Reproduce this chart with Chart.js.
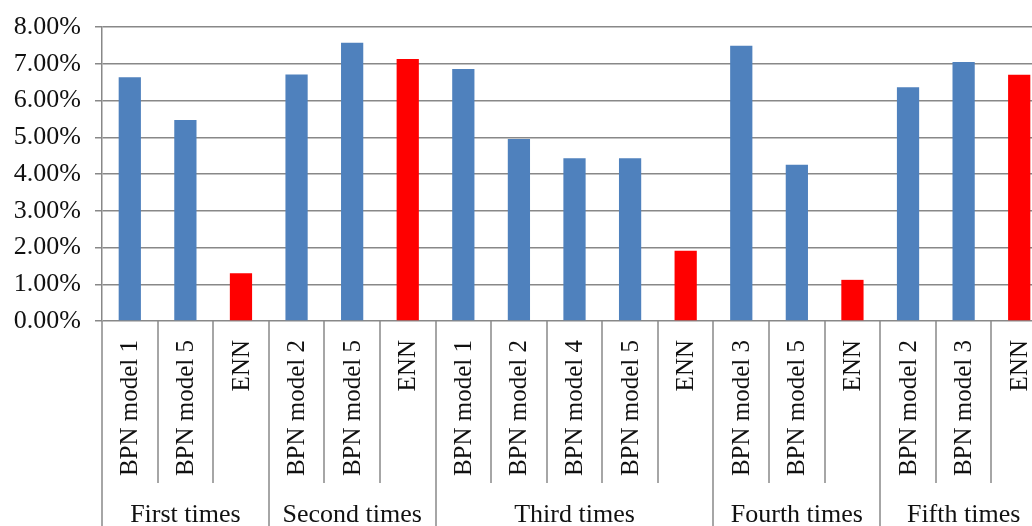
<!DOCTYPE html>
<html>
<head>
<meta charset="utf-8">
<script src="https://cdn.jsdelivr.net/npm/chart.js@4/dist/chart.umd.min.js"></script>
<style>
    html, body { margin: 0; padding: 0; background: #fff; overflow: hidden; }
    #wrap { position: relative; width: 1048px; height: 526px; }
</style>
</head>
<body>
<div id="wrap"><canvas id="chart-error"></canvas></div>
<script>
// Data
const groupNames = ['First times', 'Second times', 'Third times', 'Fourth times', 'Fifth times'];
const groupSizes = [3, 3, 5, 3, 3];
const modelLabels = [
    'BPN model 1', 'BPN model 5', 'ENN',
    'BPN model 2', 'BPN model 5', 'ENN',
    'BPN model 1', 'BPN model 2', 'BPN model 4', 'BPN model 5', 'ENN',
    'BPN model 3', 'BPN model 5', 'ENN',
    'BPN model 2', 'BPN model 3', 'ENN'
];
const errorValues = [6.63, 5.47, 1.30, 6.71, 7.57, 7.13, 6.86, 4.95, 4.43, 4.43, 1.91, 7.49, 4.25, 1.12, 6.36, 7.05, 6.70];
const yTicks = [0, 1, 2, 3, 4, 5, 6, 7, 8];

const BLUE = '#4f81bd';
const RED = '#ff0000';
const LINE = '#888888';
const SERIF = "'Liberation Serif', 'Times New Roman', serif";

// Draws the two-level category axis below the plot
const groupAxisPlugin = {
    id: 'groupAxis',
    afterDraw(chart) {
        const ctx = chart.ctx;
        const x = chart.scales.x;
        const area = chart.chartArea;
        const n = modelLabels.length;
        const step = (area.right - area.left) / n;
        const edge = i => x.getPixelForValue(0) - step / 2 + i * step;

        // group boundaries
        const starts = [0];
        groupSizes.forEach((s, i) => starts.push(starts[i] + s));

        ctx.save();
        ctx.strokeStyle = LINE;
        ctx.lineWidth = 1.5;
        for (let i = 0; i <= n; i++) {
            const px = Math.round(edge(i));
            const isGroup = starts.includes(i);
            ctx.beginPath();
            ctx.moveTo(px, area.bottom);
            ctx.lineTo(px, isGroup ? 526 : 483);
            ctx.stroke();
        }

        // model labels, rotated
        ctx.fillStyle = '#111';
        ctx.font = '25px ' + SERIF;
        ctx.textAlign = 'right';
        ctx.textBaseline = 'middle';
        modelLabels.forEach((lab, i) => {
            const cx = x.getPixelForValue(i);
            ctx.save();
            ctx.translate(cx + 1, area.bottom + 19);
            ctx.rotate(-Math.PI / 2);
            ctx.fillText(lab, 0, 0);
            ctx.restore();
        });

        // group labels
        ctx.font = '26px ' + SERIF;
        ctx.textAlign = 'center';
        ctx.textBaseline = 'alphabetic';
        groupNames.forEach((g, k) => {
            const mid = (edge(starts[k]) + edge(starts[k + 1])) / 2;
            ctx.fillText(g, mid, 522);
        });
        ctx.restore();
    }
};

new Chart(document.getElementById('chart-error').getContext('2d'), {
    type: 'bar',
    data: {
        labels: modelLabels,
        datasets: [{
            data: errorValues,
            backgroundColor: modelLabels.map(l => l === 'ENN' ? RED : BLUE),
            barPercentage: 0.4,
            categoryPercentage: 1.0
        }]
    },
    options: {
        responsive: true,
        maintainAspectRatio: false,
        animation: false,
        layout: { padding: { top: 27, right: 1, bottom: 205, left: 0 } },
        plugins: {
            legend: { display: false },
            tooltip: { enabled: false }
        },
        scales: {
            x: {
                display: false,
                offset: true
            },
            y: {
                min: 0,
                max: 8,
                afterFit(scale) {
                    scale.width = 102;
                    scale.paddingTop = 0;
                    scale.paddingBottom = 0;
                },
                afterBuildTicks(scale) { scale.ticks = yTicks.map(v => ({ value: v })); },
                border: { display: true, color: LINE, width: 1.5 },
                grid: {
                    color: LINE,
                    lineWidth: 1.5,
                    tickLength: 7
                },
                ticks: {
                    color: '#111',
                    padding: 14,
                    font: { family: SERIF, size: 26 },
                    callback: v => v.toFixed(2) + '%'
                }
            }
        }
    },
    plugins: [groupAxisPlugin]
});
</script>
</body>
</html>
